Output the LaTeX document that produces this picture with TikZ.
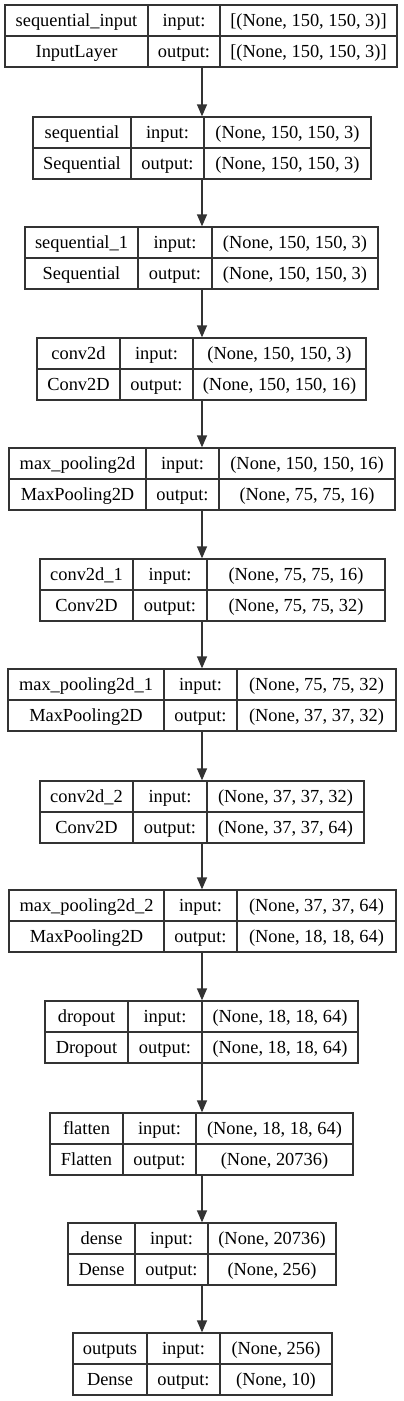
\documentclass[tikz,border=0pt]{standalone}
\usepackage{fontspec}
\setmainfont{Liberation Serif}
\usetikzlibrary{arrows.meta}
\definecolor{linecol}{HTML}{333333}
\tikzset{
  layerbox/.style={draw=linecol, line width=1.3pt, inner sep=0pt, minimum height=62pt},
  cell/.style={inner sep=0pt, anchor=base, font=\fontsize{18.4}{22}\selectfont},
  cellline/.style={draw=linecol, line width=1.3pt},
  flow/.style={draw=linecol, line width=1.3pt, -{Triangle[length=12pt,width=10pt]}},
}
\newcommand\layer[9]{%
  \def\lid{#1}\def\lL{#2}\def\lA{#3}\def\lB{#4}\def\lR{#5}\def\lT{#6}%
  \def\lname{#7}\def\ltype{#8}\def\lin{#9}%
  \layerfinish}
\newcommand\layerfinish[1]{%
  \pgfmathsetmacro\lcx{(\lL+\lR)/2}%
  \pgfmathsetmacro\lw{\lR-\lL}%
  \node[layerbox, minimum width=\lw pt] (\lid) at (\lcx,{\lT+31}) {};
  \draw[cellline] (\lA,\lT) -- (\lA,{\lT+62});
  \draw[cellline] (\lB,\lT) -- (\lB,{\lT+62});
  \draw[cellline] (\lL,{\lT+31}) -- (\lR,{\lT+31});
  \node[cell] (\lid-name) at ({(\lL+\lA)/2},{\lT+21}) {\lname};
  \node[cell] (\lid-type) at ({(\lL+\lA)/2},{\lT+52}) {\ltype};
  \node[cell] (\lid-inl) at ({(\lA+\lB)/2},{\lT+21}) {input:};
  \node[cell] (\lid-outl) at ({(\lA+\lB)/2},{\lT+52}) {output:};
  \node[cell] (\lid-in) at ({(\lB+\lR)/2},{\lT+21}) {\lin};
  \node[cell] (\lid-out) at ({(\lB+\lR)/2},{\lT+52}) {#1};
}
\begin{document}
\begin{tikzpicture}[x=1pt,y=-1pt]
\fill[white] (0,0) rectangle (404,1401);
\useasboundingbox (0,0) rectangle (404,1401);
\layer{b1}{5}{148}{220}{397}{5}{sequential\_input}{InputLayer}{[(None, 150, 150, 3)]}{[(None, 150, 150, 3)]}
\layer{b2}{33}{131}{204}{371}{117}{sequential}{Sequential}{(None, 150, 150, 3)}{(None, 150, 150, 3)}
\layer{b3}{25}{138}{212}{378}{227}{sequential\_1}{Sequential}{(None, 150, 150, 3)}{(None, 150, 150, 3)}
\layer{b4}{37}{120}{193}{366}{338}{conv2d}{Conv2D}{(None, 150, 150, 3)}{(None, 150, 150, 16)}
\layer{b5}{9}{146}{219}{395}{448}{max\_pooling2d}{MaxPooling2D}{(None, 150, 150, 16)}{(None, 75, 75, 16)}
\layer{b6}{40}{133}{207}{385}{559}{conv2d\_1}{Conv2D}{(None, 75, 75, 16)}{(None, 75, 75, 32)}
\layer{b7}{8}{164}{237}{396}{669}{max\_pooling2d\_1}{MaxPooling2D}{(None, 75, 75, 32)}{(None, 37, 37, 32)}
\layer{b8}{40}{133}{207}{364}{781}{conv2d\_2}{Conv2D}{(None, 37, 37, 32)}{(None, 37, 37, 64)}
\layer{b9}{9}{164}{237}{396}{890}{max\_pooling2d\_2}{MaxPooling2D}{(None, 37, 37, 64)}{(None, 18, 18, 64)}
\layer{b10}{45}{128}{202}{358}{1001}{dropout}{Dropout}{(None, 18, 18, 64)}{(None, 18, 18, 64)}
\layer{b11}{50}{123}{196}{353}{1113}{flatten}{Flatten}{(None, 18, 18, 64)}{(None, 20736)}
\layer{b12}{68}{135}{208}{336}{1223}{dense}{Dense}{(None, 20736)}{(None, 256)}
\layer{b13}{73}{147}{220}{332}{1333}{outputs}{Dense}{(None, 256)}{(None, 10)}
\foreach \a/\b in {b1/b2,b2/b3,b3/b4,b4/b5,b5/b6,b6/b7,b7/b8,b8/b9,b9/b10,b10/b11,b11/b12,b12/b13}
  \draw[flow] (202,0 |- \a.south) -- (202,0 |- \b.north);
\end{tikzpicture}
\end{document}
